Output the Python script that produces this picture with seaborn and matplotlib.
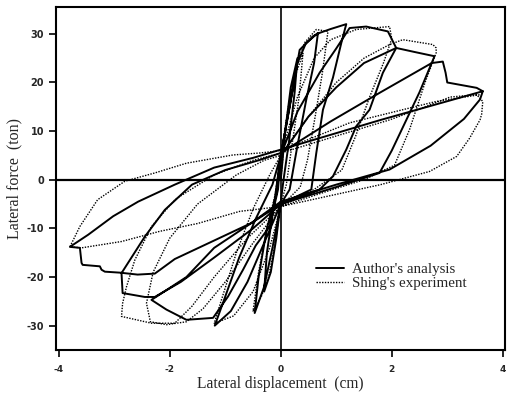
import matplotlib
matplotlib.use("Agg")
import matplotlib.pyplot as plt
import seaborn as sns
import pandas as pd

sns.set_style("ticks")
plt.rcParams['axes.unicode_minus'] = False

# Author's analysis (solid) - path of hysteresis cycles
analysis_x = [0, 0.08, 0.18, 0.3, 0.25, 0.15, 0.05, 0, -0.08, -0.18, -0.3, -0.25, -0.12, 0,
              0.16, 0.3, 0.45, 0.67, 0.6, 0.46, 0.3, 0.16, 0, -0.15, -0.3, -0.47, -0.4, -0.25, -0.08, 0,
              0.16, 0.34, 0.58, 0.7, 0.9, 1.18, 1.09, 0.94, 0.76, 0.64, 0.55, 0, -0.3, -0.6, -0.9, -1.19, -1.0, -0.75, -0.45, -0.15, 0,
              0.3, 0.7, 1.0, 1.24, 1.54, 1.93, 2.08, 1.84, 1.6, 1.36, 1.18, 0.94, 0.7, 0, -0.53, -1.2, -1.7, -2.1, -2.33, -2.06, -1.7, -1.22, -0.95, -0.68, -0.45, -0.2, -0.05, 0,
              0.5, 1.0, 1.5, 2.08, 2.4, 2.77, 2.5, 2.25, 2.0, 1.78, 1.0, 0, -0.5, -1.2, -1.8, -2.27, -2.45, -2.85, -2.87, -2.45, -2.09, -1.6, -1.0, -0.4, 0,
              0.9, 1.8, 2.72, 2.92, 2.97, 3.0, 3.53, 3.64, 3.59, 3.3, 2.7, 1.96, 1.0, 0, -0.53, -1.2, -1.91, -2.27, -2.58, -2.9, -3.17, -3.23, -3.26, -3.57, -3.59, -3.62, -3.8, -3.47, -3.02, -2.57, -1.91, -1.2, -0.5, 0, 1.8, 3.64]
analysis_y = [0, 10, 19, 25, 18, 8, 0, -4.5, -12, -19, -23, -15, -5, 5,
              15, 24, 28, 30.2, 24, 16.5, 7, -2, -5, -14, -22, -27.4, -20, -10, -3, 5,
              15.1, 26.7, 29.5, 30.2, 31, 32, 28.1, 21, 14.4, 5.5, -2, -5, -13, -21, -27, -30, -24, -16, -8, -1, 5,
              14, 22, 27, 31.2, 31.5, 30.5, 27.1, 22, 14.4, 11, 6.2, 0.7, -2, -5, -8.9, -14, -20, -23, -24.7, -26.7, -28.8, -28.4, -24, -18.5, -13.5, -9.6, -2, 5,
              13, 19, 24, 27.1, 26.3, 25.4, 18, 12, 6, 1.4, -1.5, -5, -10, -16, -21, -24.1, -24.1, -23.3, -19.2, -11.7, -6.2, -1, 2, 4, 5.5,
              12, 18, 24, 24.3, 22, 20, 18.9, 18.2, 16.5, 12.5, 7, 2.1, -1, -4.5, -8.9, -12.5, -16.3, -19.3, -19.5, -19.1, -18.9, -18.5, -17.8, -17.5, -17.1, -14, -13.8, -11.3, -7.5, -4.5, -1, 2.5, 4.5, 6.2, 12.3, 18.2]

# Shing's experiment (dotted)
experiment_x = [0, 0.1, 0.25, 0.4, 0.33, 0.2, 0.1, 0, -0.1, -0.22, -0.35, -0.5, -0.4, -0.25, -0.1, 0,
                0.15, 0.3, 0.43, 0.64, 0.85, 0.75, 0.62, 0.48, 0.35, 0, -0.2, -0.5, -0.85, -1.2, -1.05, -0.8, -0.5, -0.2, 0,
                0.3, 0.6, 0.9, 1.12, 1.36, 1.96, 2.0, 1.85, 1.6, 1.35, 1.1, 0.6, 0, -0.5, -1.0, -1.4, -1.7, -2.06, -2.35, -2.42, -2.3, -2.0, -1.5, -0.8, -0.3, 0,
                0.5, 1.0, 1.5, 1.96, 2.2, 2.74, 2.8, 2.8, 2.6, 2.32, 2.05, 1.5, 0.8, 0, -0.6, -1.2, -1.6, -1.91, -2.33, -2.87, -2.85, -2.78, -2.63, -2.33, -1.9, -1.2, -0.5, 0,
                1.0, 1.96, 2.6, 3.05, 3.53, 3.64, 3.62, 3.59, 3.4, 3.17, 2.68, 1.8, 1.0, 0, -0.74, -1.5, -2.18, -2.87, -3.59, -3.8, -3.62, -3.3, -2.81, -2.27, -1.7, -0.86, -0.38, 0, 1.24, 2.8, 3.59]
experiment_y = [0, 12, 21, 26, 17, 7, -1, -5, -13, -20, -24, -27, -19, -10, -3, 5,
                16, 24, 28.2, 30.9, 30.5, 22, 13, 4, -1.5, -5.5, -14, -23, -28, -29.5, -24, -15, -6, 1, 5,
                17, 25, 28.8, 29.8, 30.9, 31.5, 29, 24, 17, 9, 2, -2, -5.5, -13, -21, -26.5, -29.2, -29.8, -29.2, -25.4, -19, -12, -5, 1, 4, 5,
                13, 20, 25, 27.8, 28.8, 27.8, 27.1, 26.1, 20, 10.3, 3, 0, -2.5, -5.5, -12, -20, -26, -29.5, -29.5, -28.1, -25.4, -22, -16.5, -9.6, -4, 1, 4, 5.5,
                9, 12.3, 15, 17, 17.5, 16.1, 13.5, 12.3, 8.5, 4.8, 1.7, -1, -3, -5.5, -6.5, -9, -10.6, -12.7, -14, -13.8, -9.6, -4.1, -0.3, 1.4, 3.4, 5.1, 5.5, 6, 11.7, 16.1, 17.5]

x_ticks = [-4, -2, 0, 2, 4]
y_ticks = [-30, -20, -10, 0, 10, 20, 30]

fig = plt.figure(figsize=(5.07, 3.95), dpi=100)
ax = fig.add_axes([0.1105, 0.114, 0.8855, 0.868])

df_a = pd.DataFrame({"x": analysis_x, "y": analysis_y})
df_e = pd.DataFrame({"x": experiment_x, "y": experiment_y})

sns.lineplot(data=df_a, x="x", y="y", sort=False, estimator=None, color="black",
             linewidth=1.4, ax=ax, label="Author's analysis")
sns.lineplot(data=df_e, x="x", y="y", sort=False, estimator=None, color="black",
             linewidth=1.0, linestyle=(0, (1, 1)), ax=ax, label="Shing's experiment")

ax.axhline(0, color="black", linewidth=1.6, zorder=1)
ax.axvline(0, color="black", linewidth=1.2, zorder=1)

ax.set_xlim(-4.05, 4.04)
ax.set_ylim(-35, 35.5)
ax.set_xticks(x_ticks)
ax.set_yticks(y_ticks)
ax.set_xticklabels([str(v) for v in x_ticks], fontsize=6.5, fontweight="bold", family="DejaVu Sans")
ax.set_yticklabels([str(v) for v in y_ticks], fontsize=7, fontweight="bold", family="DejaVu Sans")
ax.tick_params(axis="both", direction="out", length=5, width=1.2, color="black")
ax.tick_params(axis="x", pad=6)
for s in ax.spines.values():
    s.set_linewidth(1.5)
    s.set_color("black")

ax.set_xlabel("Lateral displacement  (cm)", fontsize=11.2, family="Liberation Serif", labelpad=1)
ax.set_ylabel("Lateral force  (ton)", fontsize=11.5, family="Liberation Serif", labelpad=3)

ax.legend(loc="upper left", bbox_to_anchor=(0.555, 0.285), frameon=False,
          prop={"family": "Liberation Serif", "size": 10.8}, handlelength=1.9,
          handletextpad=0.5, labelspacing=0.0, borderpad=0.2)

fig.savefig("out.png", dpi=100)
